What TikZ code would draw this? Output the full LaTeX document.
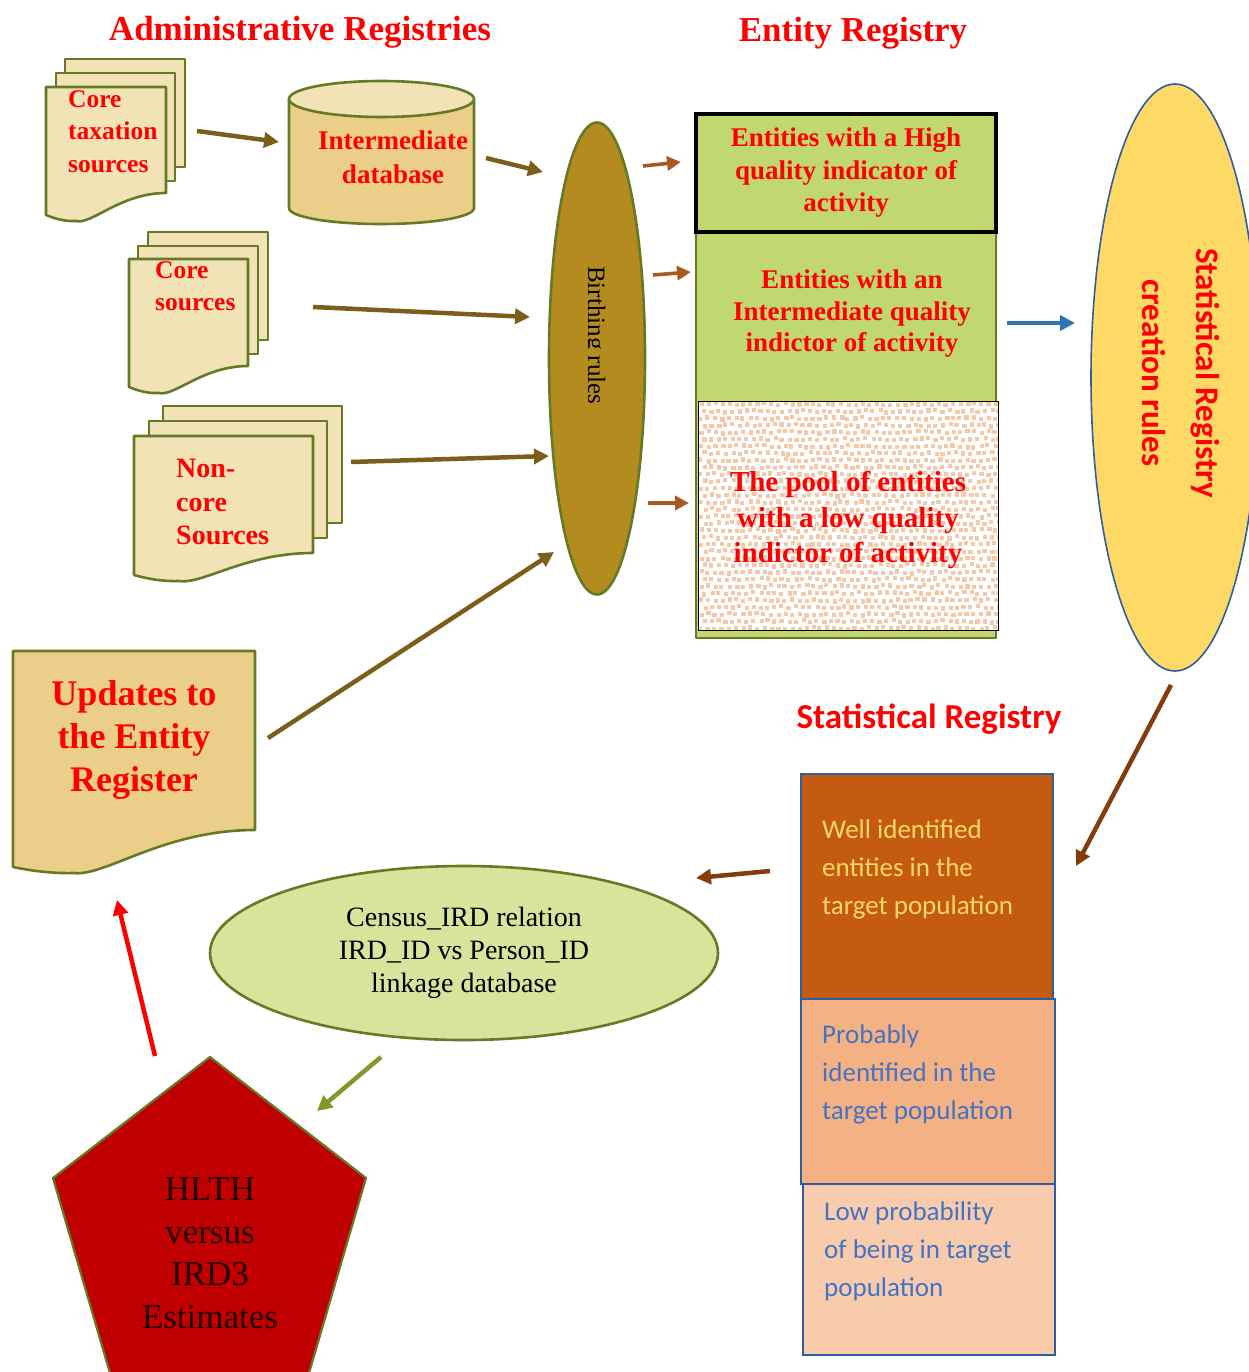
\documentclass[tikz,border=0pt]{standalone}
\usepackage{fontspec}
\setmainfont{Liberation Serif}
\newfontfamily\carlito{Carlito}
\usetikzlibrary{arrows.meta,shapes.geometric}
\definecolor{olivee}{HTML}{667A26}
\definecolor{paper}{HTML}{F2E3B6}
\definecolor{tanA}{HTML}{EBCF88}
\definecolor{birth}{HTML}{B38B1F}
\definecolor{lime}{HTML}{C1D76F}
\definecolor{pale}{HTML}{D7E49B}
\definecolor{brownA}{HTML}{7A5E1A}
\definecolor{rust}{HTML}{A85A20}
\definecolor{deepb}{HTML}{843C0C}
\definecolor{orangeA}{HTML}{C55A11}
\definecolor{orangeB}{HTML}{F4B183}
\definecolor{orangeC}{HTML}{F7CBAC}
\definecolor{edgeblue}{HTML}{2F5E9E}
\definecolor{txtblue}{HTML}{4472C4}
\definecolor{peach}{HTML}{F4C9AA}
\definecolor{gold}{HTML}{FFD966}
\definecolor{crim}{HTML}{C00000}
\definecolor{arrblue}{HTML}{2E75B6}
\definecolor{arrgreen}{HTML}{7F9A2A}
\newcommand{\fsz}[2]{\fontsize{#1}{#2}\selectfont}
\newcommand{\pagesheet}[6][paper]{%
  \draw[docline,fill=#1] (#2,#3) -- (#4,#3) -- (#4,#5)
    .. controls ({#4-0.38*(#4-#2)},#5) and ({#2+0.38*(#4-#2)},{#6+4}) .. ({#2+0.25*(#4-#2)},#6)
    .. controls ({#2+0.16*(#4-#2)},{#6+0.5}) and ({#2+0.08*(#4-#2)},{#6-2}) .. (#2,{#6-6}) -- cycle;}
\tikzset{
  docline/.style={draw=olivee,line width=2.6pt,line join=round},
  redbold/.style={text=red,font=\bfseries,align=center,inner sep=0pt},
  sarrow/.style={-{Triangle[length=15pt,width=15pt]},line width=4.5pt},
  thinarrow/.style={-{Triangle[length=14pt,width=14pt]},line width=3.6pt},
  statbox/.style={draw=edgeblue,line width=2pt},
  stattext/.style={font=\carlito\fsz{27}{38},align=left,anchor=north west,inner sep=0pt},
}
\begin{document}
\begin{tikzpicture}[x=1pt,y=-1pt]
\useasboundingbox (0,0) rectangle (1248,1372);
% titles
\node[redbold,font=\bfseries\fsz{35}{40}] (t1) at (300,32) {Administrative Registries};
\node[redbold,font=\bfseries\fsz{35}{40}] (t2) at (853,33) {Entity Registry};
\node[text=red,font=\carlito\bfseries\fsz{35}{40},inner sep=0pt] (t3) at (929,719) {Statistical Registry};
% doc stacks
\draw[docline,fill=paper] (65,59) rectangle (185,167);
\draw[docline,fill=paper] (56,73) rectangle (175,181);
\pagesheet{46}{87}{166}{193}{221}
\node[redbold,align=left,anchor=north west,font=\bfseries\fsz{25.5}{32.5}] (d1) at (68,90) {Core\\taxation\\sources};
\draw[docline,fill=paper] (148,232) rectangle (268,340);
\draw[docline,fill=paper] (138,246) rectangle (258,354);
\pagesheet{129}{259}{248}{366}{393}
\node[redbold,align=left,anchor=north west,font=\bfseries\fsz{25.5}{32.5}] (d2) at (155,261) {Core\\sources};
\draw[docline,fill=paper] (163,406) rectangle (342,523);
\draw[docline,fill=paper] (149,421) rectangle (327,538);
\pagesheet{134}{436}{313}{553}{581}
\begin{scope}
\clip (134,440) rectangle (313,552);
\node[redbold,align=left,anchor=north west,font=\bfseries\fsz{28}{33.5}] (d3) at (176,459) {Non-\\core\\Sources};
\end{scope}
% cylinder
\draw[docline,fill=tanA] (289,99) -- (289,208) .. controls (289,217) and (330,224) .. (381,224) .. controls (433,224) and (474,217) .. (474,208) -- (474,99) -- cycle;
\draw[docline,fill=paper] (381.5,99) ellipse [x radius=92.5,y radius=18];
\node[redbold,font=\bfseries\fsz{27}{34}] (cyl) at (393,157) {Intermediate\\database};
% birthing ellipse
\node[ellipse,draw=olivee,line width=2.6pt,fill=birth,minimum width=96pt,minimum height=472pt,inner sep=0pt] (birth) at (597,358.5) {};
\begin{scope}
\clip (588,250) rectangle (612,450);
\node[rotate=-90,anchor=base west,font=\fsz{25}{28},inner sep=0pt,text=black] (birthtxt) at (588,266) {Birthing rules};
\end{scope}
% entity registry
\draw[docline,fill=lime] (696,114) rectangle (996,638);
\fill[white] (698,401) rectangle (998,630);
\begin{scope}
\clip (698,401) rectangle (998,630);
\pgfmathsetseed{7}
\foreach \i in {0,...,43}{
 \foreach \j in {0,...,33}{
  \pgfmathsetmacro{\px}{698+7*\i+mod(\j,2)*3.5+2.4*rnd}
  \pgfmathsetmacro{\py}{401+7*\j+2.4*rnd}
  \fill[peach] (\px,\py) rectangle ++(4.2,4.2);
 }}
\end{scope}
\draw[black,line width=1pt] (698,401) rectangle (998,630);
\draw[black,line width=3.4pt,line join=miter] (696,114) rectangle (996,232);
\node[redbold,font=\bfseries\fsz{27}{32.5}] (e1) at (846,173) {Entities with a High\\quality indicator of\\activity};
\node[redbold,font=\bfseries\fsz{27}{31.5}] (e2) at (852,314) {Entities with an\\Intermediate quality\\indictor of activity};
\node[redbold,font=\bfseries\fsz{29}{35.5}] (e3) at (848,520) {The pool of entities\\with a low quality\\indictor of activity};
% statistical ellipse
\node[ellipse,draw=edgeblue,line width=1.6pt,fill=gold,minimum width=168pt,minimum height=587pt,inner sep=0pt] (statell) at (1175,377.5) {};
\node[text=red,rotate=-90,font=\carlito\bfseries\fsz{33}{38},inner sep=0pt] (s1) at (1205,373) {Statistical Registry};
\node[text=red,rotate=-90,font=\carlito\bfseries\fsz{33}{38},inner sep=0pt] (s2) at (1154,373) {creation rules};
% statistical boxes
\draw[statbox,fill=orangeA] (801,774) rectangle (1053,999);
\draw[statbox,fill=orangeB] (801,999) rectangle (1055,1184);
\draw[statbox,fill=orangeC] (803,1184) rectangle (1055,1355);
\node[stattext,text=gold] (b1) at (822,820) {Well identified\\entities in the\\target population};
\node[stattext,text=txtblue] (b2) at (822,1025) {Probably\\identified in the\\target population};
\node[stattext,text=txtblue] (b3) at (824,1202) {Low probability\\of being in target\\population};
% updates
\pagesheet[tanA]{13}{651}{255}{830}{873}
\node[redbold,font=\bfseries\fsz{36}{43}] (u) at (134,740) {Updates to\\the Entity\\Register};
% census
\node[ellipse,draw=olivee,line width=2.6pt,fill=pale,minimum width=508pt,minimum height=174pt,inner sep=0pt] (census) at (464,953) {};
\node[align=center,font=\fsz{28}{33},inner sep=0pt] (censustxt) at (464,953) {Census\_IRD relation\\IRD\_ID vs Person\_ID\\linkage database};
% pentagon
\draw[olivee,line width=2.2pt,fill=crim] (210,1057) -- (366,1178) -- (307,1380) -- (112,1380) -- (53,1178) -- cycle;
\node[align=center,font=\fsz{35}{42.5},inner sep=0pt,text=black!85!red] (pent) at (210,1253) {HLTH\\versus\\IRD3\\Estimates};
% connector end points
\coordinate (a1) at (197,131); \coordinate (a2) at (279,142);
\coordinate (a3) at (486,158); \coordinate (a4) at (543,172);
\coordinate (a5) at (313,307); \coordinate (a6) at (530,317);
\coordinate (a7) at (351,462); \coordinate (a8) at (549,456);
\coordinate (a9) at (268,738); \coordinate (a10) at (554,552);
\coordinate (c1) at (643,166); \coordinate (c2) at (681,162);
\coordinate (c3) at (653,275); \coordinate (c4) at (691,272);
\coordinate (c5) at (648,503); \coordinate (c6) at (689,503);
\coordinate (c7) at (1007,323); \coordinate (c8) at (1075,323);
\coordinate (c9) at (1171,685); \coordinate (c10) at (1076,866);
\coordinate (c11) at (770,871); \coordinate (c12) at (696,878);
\coordinate (c13) at (381,1057); \coordinate (c14) at (317,1111);
\coordinate (c15) at (155,1056); \coordinate (c16) at (117,900);
\draw[sarrow,brownA] (a1) -- (a2);
\draw[sarrow,brownA] (a3) -- (a4);
\draw[sarrow,brownA] (a5) -- (a6);
\draw[sarrow,brownA] (a7) -- (a8);
\draw[sarrow,brownA] (a9) -- (a10);
\draw[thinarrow,rust] (c1) -- (c2);
\draw[thinarrow,rust] (c3) -- (c4);
\draw[thinarrow,rust] (c5) -- (c6);
\draw[sarrow,arrblue] (c7) -- (c8);
\draw[sarrow,deepb] (c9) -- (c10);
\draw[sarrow,deepb] (c11) -- (c12);
\draw[sarrow,arrgreen] (c13) -- (c14);
\draw[sarrow,red] (c15) -- (c16);
\end{tikzpicture}
\end{document}
